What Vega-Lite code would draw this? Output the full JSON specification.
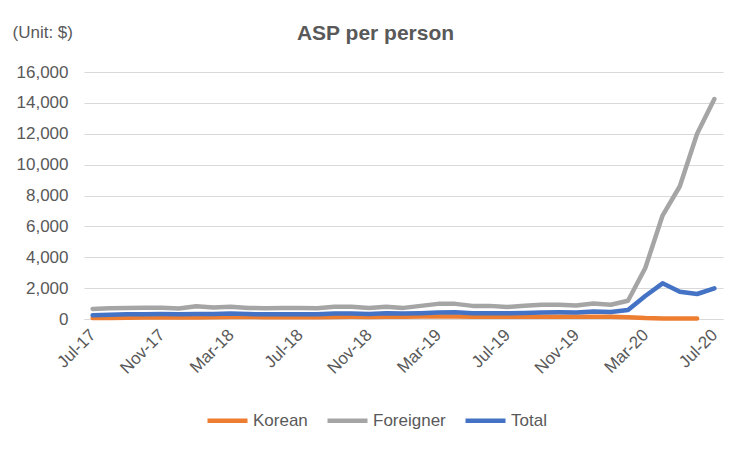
{
  "$schema": "https://vega.github.io/schema/vega-lite/v6.json",
  "autosize": "none",
  "width": 639,
  "height": 247,
  "padding": {"left": 84, "top": 72, "right": 29, "bottom": 132},
  "background": "white",
  "config": {
    "font": "Liberation Sans",
    "view": {"stroke": null},
    "axis": {"labelColor": "#595959", "labelFont": "Liberation Sans", "labelFontSize": 17, "titleColor": "#595959"}
  },
  "title": {
    "text": "ASP per person",
    "anchor": "middle",
    "dx": -28,
    "offset": -21,
    "fontSize": 21,
    "fontWeight": "bold",
    "color": "#595959",
    "font": "Liberation Sans"
  },
  "data": {
    "values": [
      {"month": "Jul-17", "Korean": 60, "Foreigner": 650, "Total": 250},
      {"month": "Aug-17", "Korean": 70, "Foreigner": 700, "Total": 280},
      {"month": "Sep-17", "Korean": 80, "Foreigner": 720, "Total": 300},
      {"month": "Oct-17", "Korean": 90, "Foreigner": 730, "Total": 310},
      {"month": "Nov-17", "Korean": 100, "Foreigner": 730, "Total": 320},
      {"month": "Dec-17", "Korean": 100, "Foreigner": 680, "Total": 310},
      {"month": "Jan-18", "Korean": 100, "Foreigner": 820, "Total": 320},
      {"month": "Feb-18", "Korean": 110, "Foreigner": 750, "Total": 330},
      {"month": "Mar-18", "Korean": 130, "Foreigner": 800, "Total": 350},
      {"month": "Apr-18", "Korean": 140, "Foreigner": 720, "Total": 320},
      {"month": "May-18", "Korean": 120, "Foreigner": 700, "Total": 300},
      {"month": "Jun-18", "Korean": 110, "Foreigner": 720, "Total": 310},
      {"month": "Jul-18", "Korean": 110, "Foreigner": 720, "Total": 310},
      {"month": "Aug-18", "Korean": 110, "Foreigner": 700, "Total": 300},
      {"month": "Sep-18", "Korean": 130, "Foreigner": 800, "Total": 350},
      {"month": "Oct-18", "Korean": 140, "Foreigner": 790, "Total": 360},
      {"month": "Nov-18", "Korean": 130, "Foreigner": 720, "Total": 330},
      {"month": "Dec-18", "Korean": 150, "Foreigner": 800, "Total": 370},
      {"month": "Jan-19", "Korean": 150, "Foreigner": 720, "Total": 350},
      {"month": "Feb-19", "Korean": 160, "Foreigner": 850, "Total": 380},
      {"month": "Mar-19", "Korean": 160, "Foreigner": 980, "Total": 420},
      {"month": "Apr-19", "Korean": 160, "Foreigner": 980, "Total": 430},
      {"month": "May-19", "Korean": 150, "Foreigner": 850, "Total": 380},
      {"month": "Jun-19", "Korean": 140, "Foreigner": 850, "Total": 380},
      {"month": "Jul-19", "Korean": 140, "Foreigner": 780, "Total": 370},
      {"month": "Aug-19", "Korean": 150, "Foreigner": 860, "Total": 390},
      {"month": "Sep-19", "Korean": 150, "Foreigner": 920, "Total": 420},
      {"month": "Oct-19", "Korean": 150, "Foreigner": 920, "Total": 430},
      {"month": "Nov-19", "Korean": 140, "Foreigner": 870, "Total": 420},
      {"month": "Dec-19", "Korean": 150, "Foreigner": 1000, "Total": 480},
      {"month": "Jan-20", "Korean": 140, "Foreigner": 920, "Total": 460},
      {"month": "Feb-20", "Korean": 120, "Foreigner": 1180, "Total": 580},
      {"month": "Mar-20", "Korean": 60, "Foreigner": 3300, "Total": 1490},
      {"month": "Apr-20", "Korean": 40, "Foreigner": 6700, "Total": 2310},
      {"month": "May-20", "Korean": 40, "Foreigner": 8600, "Total": 1770},
      {"month": "Jun-20", "Korean": 40, "Foreigner": 12000, "Total": 1620},
      {"month": "Jul-20", "Korean": null, "Foreigner": 14250, "Total": 1990}
    ]
  },
  "transform": [
    {"fold": ["Korean", "Foreigner", "Total"], "as": ["series", "value"]},
    {"filter": "datum.value != null"}
  ],
  "mark": {"type": "line", "strokeWidth": 4.5, "strokeCap": "round", "strokeJoin": "round"},
  "encoding": {
    "x": {
      "field": "month",
      "type": "ordinal",
      "sort": null,
      "scale": {"type": "point", "padding": 0.5},
      "axis": {
        "title": null,
        "values": ["Jul-17", "Nov-17", "Mar-18", "Jul-18", "Nov-18", "Mar-19", "Jul-19", "Nov-19", "Mar-20", "Jul-20"],
        "labelAngle": -45,
        "labelAlign": "right",
        "labelBaseline": "middle",
        "labelPadding": 13,
        "ticks": false,
        "domain": true,
        "domainColor": "#d9d9d9",
        "domainWidth": 1,
        "grid": false
      }
    },
    "y": {
      "field": "value",
      "type": "quantitative",
      "scale": {"domain": [0, 16000], "nice": false},
      "axis": {
        "title": "(Unit: $)",
        "titleAngle": 0,
        "titleAlign": "left",
        "titleBaseline": "middle",
        "titleX": -72,
        "titleY": -40,
        "titleFontSize": 17,
        "titleFontWeight": "normal",
        "titleFont": "Liberation Sans",
        "values": [0, 2000, 4000, 6000, 8000, 10000, 12000, 14000, 16000],
        "format": ",.0f",
        "domain": false,
        "ticks": false,
        "grid": true,
        "gridColor": "#d9d9d9",
        "gridWidth": 1,
        "labelPadding": 16
      }
    },
    "color": {
      "field": "series",
      "type": "nominal",
      "scale": {"domain": ["Korean", "Foreigner", "Total"], "range": ["#ED7D31", "#A5A5A5", "#4472C4"]},
      "legend": {
        "title": null,
        "orient": "none",
        "direction": "horizontal",
        "legendX": 121,
        "legendY": 326,
        "symbolType": "stroke",
        "symbolStrokeWidth": 4.5,
        "symbolSize": 1600,
        "labelFontSize": 17,
        "labelColor": "#595959",
        "labelFont": "Liberation Sans",
        "columnPadding": 10,
        "labelOffset": 3
      }
    },
    "order": {"field": "series", "sort": "descending"}
  }
}
